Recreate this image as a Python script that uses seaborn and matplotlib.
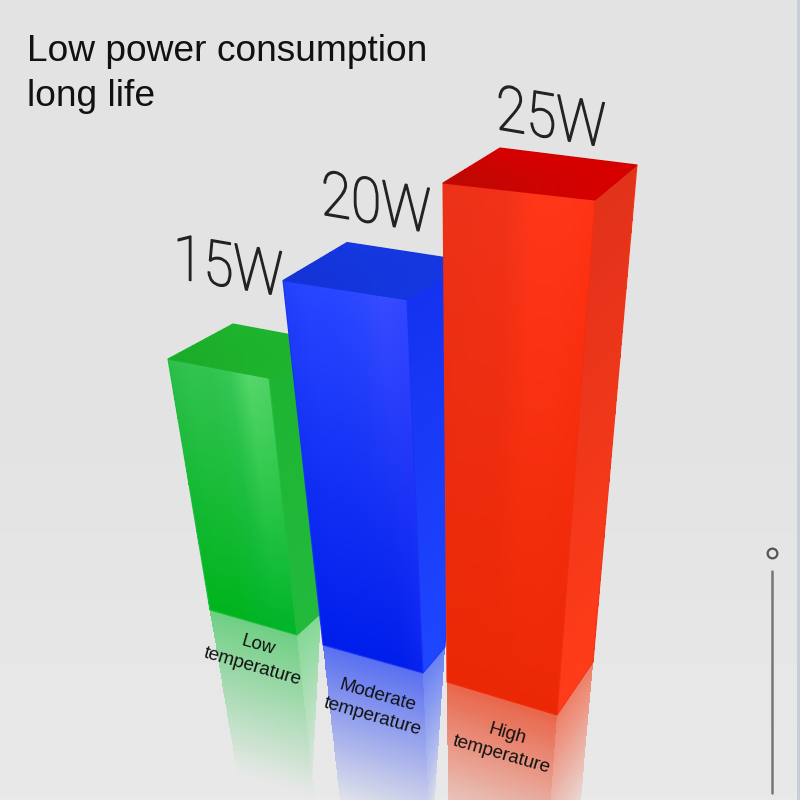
import numpy as np
import matplotlib
matplotlib.use('Agg')
import matplotlib.pyplot as plt
import matplotlib.patheffects as pe
from matplotlib.transforms import Affine2D
import seaborn as sns

# chart data
watts = [15, 20, 25]
categories = ['Low\ntemperature', 'Moderate\ntemperature', 'High\ntemperature']
title_lines = 'Low power consumption\nlong life'

# bar footprints on the floor, in image pixels (left, front, right corner)
base_left = [(210, 610), (323, 645), (447, 682)]
base_front = [(297, 635), (423, 673), (557, 715)]
base_right = [(321, 613), (445, 647), (593, 662)]

# how far each corner rises per watt above 5 W, and its sideways lean
rise_left = [25.1, 24.3, 24.95]
rise_front = [25.7, 24.9, 25.75]
rise_right = [27.0, 25.7, 24.85]
lean_left = [-42, -40, -4]
lean_front = [-28, -16, 38]
lean_right = [14, 26, 44]
back_shift = [-1, 0, 15]

# colours: stops run left to right over a face
front_top = [['#2dbe4b', '#32c350', '#32c350', '#36c655', '#55d769', '#50d264'],
             ['#2341fa', '#2846ff', '#2846ff', '#2c48ff', '#374bff', '#3246ff'],
             ['#eb3219', '#ee3219', '#f03219', '#ff3719', '#ff3719', '#ff3214']]
front_bottom = [['#00b41e', '#00b41e', '#00b41e', '#00b428', '#00b428', '#00b428'],
                ['#001eeb', '#001eeb', '#001eeb', '#001eeb', '#001eeb', '#0a23f0'],
                ['#eb2805', '#eb2805', '#eb2805', '#eb2805', '#eb2805', '#eb2805']]
side_top = ['#1eb432', '#1432f0', '#e1321a']
side_bottom = ['#23b93c', '#1e46ff', '#ff3c19']
roof_dark = ['#1aaa28', '#1432d2', '#b90a05']
roof_light = ['#1eb42d', '#1437e1', '#d70000']
glow = ['#6fcf83', '#5a70f0', '#e9664a']
side_glow = ['#84d895', '#6a82f3', '#ee8068']
floor = '#e8e8e8'

label_offset = [(-5, -54), (29, -36), (51, -27)]
cat_xy = [(255, 656), (375, 706), (504, 744)]

fade_len = 165


class Squeeze(pe.AbstractPathEffect):
    # tilts the baseline but keeps stems upright, as the printed labels do
    def __init__(self, sx, slope, stroke):
        super().__init__()
        self.sx = sx
        self.slope = slope
        self.stroke = stroke

    def draw_path(self, renderer, gc, tpath, affine, rgbFace=None):
        box = tpath.get_extents(affine)
        cx, cy = (box.x0 + box.x1) / 2, (box.y0 + box.y1) / 2
        warp = Affine2D().translate(-cx, -cy) + \
            Affine2D.from_values(self.sx, self.slope, 0, 1, 0, 0) + \
            Affine2D().translate(cx, cy)
        gc0 = renderer.new_gc()
        gc0.copy_properties(gc)
        gc0.set_linewidth(self.stroke)
        renderer.draw_path(gc0, tpath, affine + warp, rgbFace)
        gc0.restore()


def mesh(a, b, c, d, n=80):
    # bilinear grid over the quad a-b (upper edge), d-c (lower edge)
    u, v = np.meshgrid(np.linspace(0, 1, n + 1), np.linspace(0, 1, n + 1))
    a, b, c, d = [np.array(p, dtype=float) for p in (a, b, c, d)]
    x = (1 - v) * ((1 - u) * a[0] + u * b[0]) + v * ((1 - u) * d[0] + u * c[0])
    y = (1 - v) * ((1 - u) * a[1] + u * b[1]) + v * ((1 - u) * d[1] + u * c[1])
    return x, y


def draw_face(ax, a, b, c, d, upper, lower, n=80):
    x, y = mesh(a, b, c, d, n)
    up = np.array(sns.blend_palette(upper, n))
    low = np.array(sns.blend_palette(lower, n))
    w = np.linspace(0, 1, n)[:, None, None]
    rgb = (1 - w) * up[None, :, :] + w * low[None, :, :]
    ax.pcolormesh(x, y, rgb, shading='flat', antialiased=False, linewidth=0)
    edge = rgb.mean(axis=(0, 1))
    ax.add_patch(plt.Polygon([a, b, c, d], closed=True, fill=False, ec=edge, lw=0.8))


def draw_glow(ax, p, q, dp, dq, colour, n=60):
    # floor reflection, fading out with distance from the bar
    d = (p[0] + dp, p[1] + fade_len)
    c = (q[0] + dq, q[1] + fade_len)
    x, y = mesh(p, q, c, d, n)
    ramp = np.array(sns.blend_palette([colour, floor], n))[:, None, :]
    rgb = np.repeat(ramp, n, axis=1)
    ax.pcolormesh(x, y, rgb, shading='flat', antialiased=False, linewidth=0)


sns.set_theme(style='white')
plt.rcParams['font.family'] = ['Liberation Sans', 'DejaVu Sans']

fig = plt.figure(figsize=(8, 8), dpi=100)
ax = fig.add_axes([0, 0, 1, 1])

# backdrop, a bit lighter towards the floor
ramp = np.array(sns.blend_palette(['#e3e3e3', '#e3e3e3', '#e9e9e9'], 200))[:, None, :]
ax.imshow(ramp, extent=(0, 800, 800, 0), aspect='auto', zorder=0)
ax.axvspan(797, 800, color='#c8cdd7', lw=0, zorder=0.5)

for i, w in enumerate(watts):
    h = w - 5
    top_l = (base_left[i][0] + lean_left[i], base_left[i][1] - rise_left[i] * h)
    top_f = (base_front[i][0] + lean_front[i], base_front[i][1] - rise_front[i] * h)
    top_r = (base_right[i][0] + lean_right[i], base_right[i][1] - rise_right[i] * h)
    # the hidden back corner closes the roof
    top_b = (top_l[0] + top_r[0] - top_f[0] + back_shift[i],
             top_l[1] + top_r[1] - top_f[1])

    slope_l = -lean_left[i] / (rise_left[i] * h)
    slope_f = -lean_front[i] / (rise_front[i] * h)
    slope_r = -lean_right[i] / (rise_right[i] * h)
    draw_glow(ax, base_left[i], base_front[i], slope_l * fade_len, slope_f * fade_len, glow[i])
    draw_glow(ax, base_front[i], base_right[i], slope_f * fade_len, slope_r * fade_len, side_glow[i])

    draw_face(ax, top_f, top_r, base_right[i], base_front[i], [side_top[i]] * 2, [side_bottom[i]] * 2)
    draw_face(ax, top_l, top_f, base_front[i], base_left[i], front_top[i], front_bottom[i])
    draw_face(ax, top_l, top_b, top_r, top_f, [roof_dark[i], roof_light[i]], [roof_light[i], roof_light[i]])

    ax.text(top_b[0] + label_offset[i][0], top_b[1] + label_offset[i][1], f'{w}W',
            family=['Roboto', 'DejaVu Sans'], fontweight='light', fontsize=45,
            color='#222222', ha='center', va='center',
            path_effects=[Squeeze(0.88, -0.15, 1.0)])
    ax.text(cat_xy[i][0], cat_xy[i][1], categories[i], fontsize=13.5, color='#111111',
            rotation=-16, ha='center', va='center', rotation_mode='anchor',
            multialignment='center', linespacing=1.35)

ax.text(27, 74, title_lines, fontsize=26.7, color='#111111', ha='left', va='center',
        linespacing=1.37)

# small scale mark on the right
ax.plot([772], [553], 'o', ms=7, mfc='none', mec='#555555', mew=1.6)
ax.plot([772, 772], [571, 793], color='#777777', lw=1.8)

ax.set_xlim(0, 800)
ax.set_ylim(800, 0)
ax.axis('off')
fig.savefig('out.png', dpi=100)
